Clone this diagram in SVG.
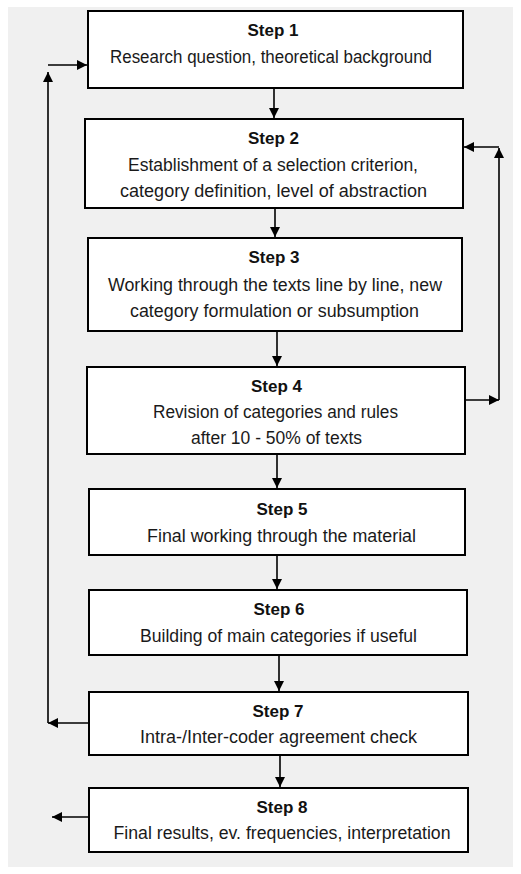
<svg xmlns="http://www.w3.org/2000/svg" width="521" height="874" viewBox="0 0 521 874">
  <style>
    .box { fill: #ffffff; stroke: #000000; stroke-width: 2; }
    .title { font-family: "Liberation Sans", Arial, sans-serif; font-size: 17px; font-weight: bold; fill: #111111; text-anchor: middle; }
    .body { font-family: "Liberation Sans", Arial, sans-serif; font-size: 17.5px; fill: #1a1a1a; text-anchor: middle; }
    .conn { fill: none; stroke: #000000; stroke-width: 1.6; }
  </style>
  <defs>
    <marker id="arrow" viewBox="0 0 10 10" refX="10" refY="5" markerWidth="10" markerHeight="10" markerUnits="userSpaceOnUse" orient="auto">
      <path d="M0,0 L10,5 L0,10 Z" fill="#000000"/>
    </marker>
  </defs>

  <rect x="8" y="7" width="505" height="860" fill="#f0f0f0"/>

  <g id="connectors">
    <line class="conn" x1="274" y1="88" x2="274" y2="118" marker-end="url(#arrow)"/>
    <line class="conn" x1="275" y1="208" x2="275" y2="237" marker-end="url(#arrow)"/>
    <line class="conn" x1="277" y1="331" x2="277" y2="366" marker-end="url(#arrow)"/>
    <line class="conn" x1="277" y1="454" x2="277" y2="488" marker-end="url(#arrow)"/>
    <line class="conn" x1="277" y1="555" x2="277" y2="589" marker-end="url(#arrow)"/>
    <line class="conn" x1="279" y1="655" x2="279" y2="691" marker-end="url(#arrow)"/>
    <line class="conn" x1="280" y1="755" x2="280" y2="787" marker-end="url(#arrow)"/>
    <!-- loop back from step 7 to step 1 -->
    <line class="conn" x1="89" y1="723" x2="48" y2="723" marker-end="url(#arrow)"/>
    <line class="conn" x1="48" y1="723" x2="48" y2="72" marker-end="url(#arrow)"/>
    <line class="conn" x1="48" y1="65" x2="87" y2="65" marker-end="url(#arrow)"/>
    <!-- loop back from step 4 to step 2 -->
    <line class="conn" x1="465" y1="400" x2="499" y2="400" marker-end="url(#arrow)"/>
    <line class="conn" x1="499" y1="400" x2="499" y2="148" marker-end="url(#arrow)"/>
    <line class="conn" x1="499" y1="147" x2="464" y2="147" marker-end="url(#arrow)"/>
    <!-- outgoing arrow from step 8 -->
    <line class="conn" x1="89" y1="817" x2="52" y2="817" marker-end="url(#arrow)"/>
  </g>

  <g id="step1">
    <rect class="box" x="88" y="11" width="375" height="77"/>
    <text class="title" x="273" y="36">Step 1</text>
    <text class="body" x="271" y="63" textLength="322" lengthAdjust="spacingAndGlyphs">Research question, theoretical background</text>
  </g>
  <g id="step2">
    <rect class="box" x="85" y="119" width="378" height="89"/>
    <text class="title" x="273.5" y="144">Step 2</text>
    <text class="body" x="273" y="171" textLength="290" lengthAdjust="spacingAndGlyphs">Establishment of a selection criterion,</text>
    <text class="body" x="273.5" y="197" textLength="307" lengthAdjust="spacingAndGlyphs">category definition, level of abstraction</text>
  </g>
  <g id="step3">
    <rect class="box" x="88" y="238" width="374" height="93"/>
    <text class="title" x="274" y="263">Step 3</text>
    <text class="body" x="275" y="291" textLength="334" lengthAdjust="spacingAndGlyphs">Working through the texts line by line, new</text>
    <text class="body" x="274.5" y="317" textLength="289" lengthAdjust="spacingAndGlyphs">category formulation or subsumption</text>
  </g>
  <g id="step4">
    <rect class="box" x="87" y="367" width="378" height="87"/>
    <text class="title" x="276.5" y="392">Step 4</text>
    <text class="body" x="275.5" y="418" textLength="245" lengthAdjust="spacingAndGlyphs">Revision of categories and rules</text>
    <text class="body" x="276.5" y="444" textLength="171" lengthAdjust="spacingAndGlyphs">after 10 - 50% of texts</text>
  </g>
  <g id="step5">
    <rect class="box" x="89" y="489" width="376" height="66"/>
    <text class="title" x="282" y="515">Step 5</text>
    <text class="body" x="281.5" y="542" textLength="269" lengthAdjust="spacingAndGlyphs">Final working through the material</text>
  </g>
  <g id="step6">
    <rect class="box" x="89" y="590" width="378" height="65"/>
    <text class="title" x="279" y="615">Step 6</text>
    <text class="body" x="278.5" y="642" textLength="277" lengthAdjust="spacingAndGlyphs">Building of main categories if useful</text>
  </g>
  <g id="step7">
    <rect class="box" x="89" y="692" width="379" height="63"/>
    <text class="title" x="278" y="717">Step 7</text>
    <text class="body" x="278.5" y="743" textLength="277" lengthAdjust="spacingAndGlyphs">Intra-/Inter-coder agreement check</text>
  </g>
  <g id="step8">
    <rect class="box" x="89" y="788" width="379" height="64"/>
    <text class="title" x="282" y="813">Step 8</text>
    <text class="body" x="282" y="839" textLength="337" lengthAdjust="spacingAndGlyphs">Final results, ev. frequencies, interpretation</text>
  </g>
</svg>
